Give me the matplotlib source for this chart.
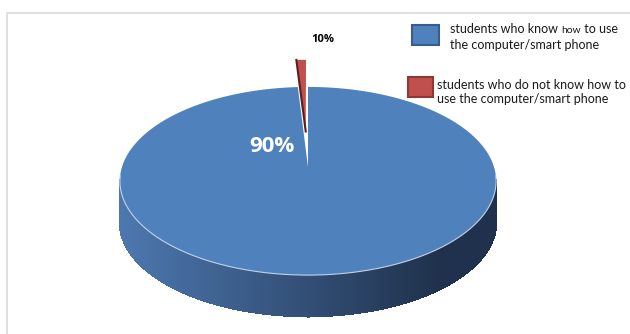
import numpy as np
import matplotlib
matplotlib.use("Agg")
import matplotlib.pyplot as plt
from matplotlib.patches import Polygon, Rectangle

# data (shares, labels as printed)
categories = ["students who know how to use\nthe computer/smart phone",
              "students who do not know how to\nuse the computer/smart phone"]
shares = [99.0, 1.0]
pct_labels = ["90%", "10%"]
colors = ["#4f81bd", "#c0504d"]
edge_colors = ["#385d8a", "#8c3836"]

# pie geometry in pixel space
cx, cy = 308.0, 167.0
rx, ry = 186.0, 92.0
k = 0.149          # perspective squeeze of the far half
depth = 41.0
explode = [0.0, 0.41]


def proj(u, v, dz=0.0):
    s = 1.0 + k * v
    return cx + rx * u / s, cy - ry * v / s + dz


def wedge_pts(t0, t1, e, tm, dz=0.0, n=200):
    ex, ey = e * np.cos(tm), e * np.sin(tm)
    ts = np.linspace(t0, t1, n)
    pts = [proj(ex, ey, dz)]
    pts += [proj(np.cos(t) + ex, np.sin(t) + ey, dz) for t in ts]
    return np.array(pts)


fig = plt.figure(figsize=(6.3, 3.34), dpi=100)
ax = fig.add_axes([0, 0, 1, 1])
ax.set_xlim(0, 630)
ax.set_ylim(334, 0)
ax.axis("off")

# light frame
ax.plot([7, 7, 640], [340, 13, 13], color="#d9d9d9", lw=1.2)

# slice angles, red at the top going left
frac = np.array(shares) / sum(shares)
red_t0 = np.pi / 2
red_t1 = red_t0 + 2 * np.pi * frac[1]
blue_t0, blue_t1 = red_t1, red_t0 + 2 * np.pi

# blue side wall with horizontal gradient (start near the silhouette)
c_left = np.array(matplotlib.colors.to_rgb("#4d78b0"))
c_right = np.array(matplotlib.colors.to_rgb("#1f314c"))
ts = np.linspace(np.pi + 0.13, 2 * np.pi - 0.13, 300)
for a, b in zip(ts[:-1], ts[1:]):
    p0 = proj(np.cos(a), np.sin(a))
    p1 = proj(np.cos(b), np.sin(b))
    f = np.clip((p0[0] - 120) / (440 - 120), 0, 1)
    col = c_left * (1 - f) + c_right * f
    quad = [p0, p1, (p1[0], p1[1] + depth), (p0[0], p0[1] + depth)]
    ax.add_patch(Polygon(quad, closed=True, fc=col, ec=col, lw=1.0,
                         antialiased=False))

# blue top face
top = wedge_pts(blue_t0, blue_t1, explode[0], (blue_t0 + blue_t1) / 2)
ax.add_patch(Polygon(top, closed=True, fc=colors[0], ec="none"))
front = np.array([proj(np.cos(t), np.sin(t)) for t in np.linspace(np.pi * 1.03, np.pi * 1.97, 200)])
ax.plot(front[:, 0], front[:, 1], color="#c4d2e6", lw=0.8)

# red exploded slice
tm = (red_t0 + red_t1) / 2
red = wedge_pts(red_t0, red_t1, explode[1], tm, n=20)
ax.add_patch(Polygon(red, closed=True, fc=colors[1], ec="none"))
ax.plot([red[0, 0], red[-1, 0]], [red[0, 1], red[-1, 1]], color="#5a1f1d", lw=1.5)

# percentage labels
ax.text(272, 147, pct_labels[0], color="white", fontsize=16, fontweight="bold",
        family="Open Sans", ha="center", va="center")
ax.text(323, 40, pct_labels[1], color="black", fontsize=8, fontweight="bold",
        family="Open Sans", ha="center", va="center")

# legend
ax.add_patch(Rectangle((412, 25), 27, 20, fc=colors[0], ec=edge_colors[0], lw=1.5))
ax.add_patch(Rectangle((408, 77), 25, 20, fc=colors[1], ec=edge_colors[1], lw=1.5))

# first entry has a smaller "how", as in the source
fig.canvas.draw()
r = fig.canvas.get_renderer()
parts = [("students who know ", 9), ("how", 7.5), (" to use", 9)]
x = 450
for txt, fs in parts:
    t = ax.text(x, 33, txt, fontsize=fs, family="Lato", va="baseline",
                ha="left", color="#1a1a1a")
    x = t.get_window_extent(r).x1
ax.text(450, 33 + 16, categories[0].split("\n")[1], fontsize=9, family="Lato",
        va="baseline", ha="left", color="#1a1a1a")
ax.text(437, 92, categories[1], fontsize=9, family="Lato", va="center",
        ha="left", linespacing=1.25, color="#1a1a1a")

fig.savefig("out.png", dpi=100)
